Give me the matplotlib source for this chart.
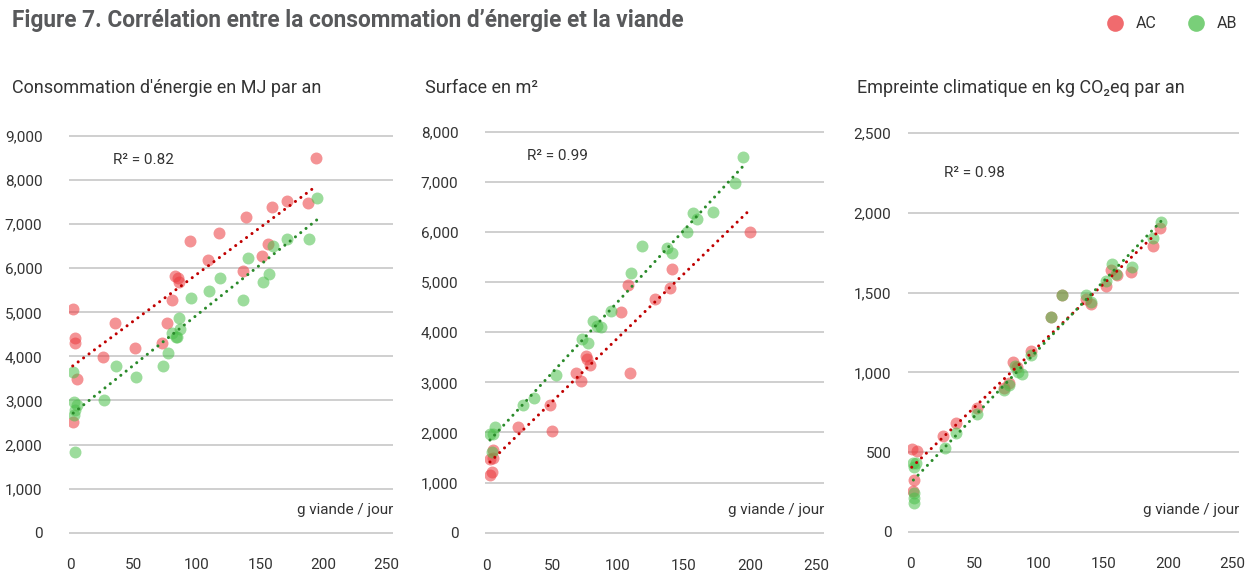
import numpy as np
import matplotlib
matplotlib.use('Agg')
import matplotlib.pyplot as plt
from matplotlib.lines import Line2D

plt.rcParams['font.family'] = ['Roboto', 'DejaVu Sans']

W, H = 1255, 574

# Panel 1: energy consumption (MJ / year) vs meat (g / day)
energy_ac_x = [1.6, 3.2, 3.2, 5, 2, 25.9, 35, 51, 72, 76, 80, 82.6, 84.7, 85.8, 94,
               109, 117, 136, 139, 151, 156, 159, 171, 187.6, 194]
energy_ac_y = [5074, 4409, 4310, 3494, 2518, 3985, 4764, 4189, 4310, 4764, 5278, 5823,
               5777, 5679, 6624, 6186, 6791, 5944, 7154, 6277, 6541, 7396, 7524, 7486, 8492]
energy_ab_x = [2, 2.6, 4.7, 3.7, 2.6, 3.2, 26.4, 36, 51.7, 72.8, 76.8, 80, 83, 83.9,
               85.8, 86.5, 95, 109.5, 118, 136.7, 140, 152, 157, 160, 171.5, 188.7, 195]
energy_ab_y = [3652, 2972, 2896, 2783, 2669, 1838, 3010, 3781, 3539, 3781, 4068, 4522,
               4431, 4446, 4877, 4613, 5316, 5490, 5770, 5278, 6224, 5679, 5861, 6503,
               6662, 6662, 7600]

# Panel 2: surface (m2)
surface_ac_x = [3, 4.3, 3, 5, 5, 24.5, 48.5, 49.7, 68, 71.7, 75.8, 76.3, 78.8, 102,
                107.8, 109, 128, 139.4, 140.7, 200]
surface_ac_y = [1150, 1217, 1463, 1483, 1649, 2101, 2547, 2035, 3178, 3032, 3524, 3457,
                3344, 4395, 4940, 3178, 4654, 4874, 5253, 6004]
surface_ab_x = [3, 5, 6.8, 4.3, 28, 36, 52.8, 73, 77, 81, 84, 87, 95, 110, 118, 137,
                140.7, 152.5, 156.6, 160, 171.7, 188.6, 195]
surface_ab_y = [1961, 1961, 2114, 1616, 2547, 2680, 3145, 3856, 3790, 4222, 4122, 4096,
                4428, 5173, 5718, 5685, 5572, 6004, 6370, 6257, 6390, 6968, 7500]

# Panel 3: climate footprint (kg CO2eq / year)
climate_ac_x = [1.3, 5.2, 3.1, 2.6, 25.8, 35.6, 51.7, 72.8, 76.7, 80, 82.6, 93.5, 109,
                117.5, 136, 140, 152, 156, 160, 171, 188, 194]
climate_ac_y = [517, 506, 324, 257, 600, 684, 774, 904, 931, 1067, 1036, 1136, 1345,
                1485, 1460, 1429, 1544, 1642, 1611, 1632, 1793, 1908]
climate_ab_x = [2.6, 4.6, 3.1, 3.4, 3.4, 3.1, 27, 35.6, 52, 72.8, 76.7, 81.4, 84, 86.5,
                94, 109, 117.5, 136.4, 140, 152, 156.8, 159.6, 171.7, 188.5, 194.5]
climate_ab_y = [433, 429, 408, 245, 209, 182, 523, 621, 736, 889, 920, 1040, 1004, 990,
                1109, 1345, 1485, 1485, 1439, 1573, 1678, 1617, 1663, 1841, 1946]

r2_labels = ['R² = 0.82', 'R² = 0.99', 'R² = 0.98']
subtitles = ["Consommation d'énergie en MJ par an", 'Surface en m²',
             'Empreinte climatique en kg CO₂eq par an']
x_ticks = [0, 50, 100, 150, 200, 250]
y_ticks = [list(range(0, 9001, 1000)), list(range(0, 8001, 1000)), list(range(0, 2501, 500))]

RED, GREEN = '#ec3a3e', '#4cc04c'
RED_TREND, GREEN_TREND = '#c00000', '#2a8a2a'
TEXT = '#333333'


def px_axes(fig, left, right, top, bottom):
    return fig.add_axes([left / W, 1 - bottom / H, (right - left) / W, (bottom - top) / H])


fig = plt.figure(figsize=(W / 100, H / 100), dpi=100)

panels = [
    (energy_ac_x, energy_ac_y, energy_ab_x, energy_ab_y),
    (surface_ac_x, surface_ac_y, surface_ab_x, surface_ab_y),
    (climate_ac_x, climate_ac_y, climate_ab_x, climate_ab_y),
]
# pixel boxes (left, right, top, bottom), x limits, y limits, y label pad
boxes = [
    ((68.8, 393.0, 131.6, 537.1), (-1.5, 255), (-100, 9100), 19),
    ((484.7, 823.9, 126.7, 537.7), (-1, 256), (-100, 8100), 19),
    ((908.1, 1239.2, 128.5, 536.5), (-1.5, 255), (-30, 2530), 12),
]
subtitle_x = [12, 425, 857]
r2_pos = [(113, 160), (527, 156), (944, 173)]

for i, ((ac_x, ac_y, ab_x, ab_y), (box, xl, yl, ypad)) in enumerate(zip(panels, boxes)):
    ax = px_axes(fig, *box)
    ax.scatter(ac_x, ac_y, s=74, color=RED, alpha=0.55, linewidths=0, zorder=2)
    ax.scatter(ab_x, ab_y, s=74, color=GREEN, alpha=0.55, linewidths=0, zorder=2)

    # linear trend lines
    for xs, ys, c in [(ac_x, ac_y, RED_TREND), (ab_x, ab_y, GREEN_TREND)]:
        slope, inter = np.polyfit(xs, ys, 1)
        xx = np.array([min(xs), max(xs)])
        ax.plot(xx, slope * xx + inter, color=c, lw=2.2,
                linestyle=(0, (0.01, 2.2)), dash_capstyle='round', zorder=3)

    ax.set_xlim(*xl)
    ax.set_ylim(*yl)
    ax.set_xticks(x_ticks)
    ax.set_yticks(y_ticks[i])
    ax.set_yticklabels([f'{v:,}' for v in y_ticks[i]])
    ax.tick_params(length=0, labelsize=11, colors=TEXT)
    ax.tick_params(axis='x', pad=15)
    ax.tick_params(axis='y', pad=ypad)
    ax.grid(axis='y', color='#cfcfcf', lw=1.4)
    ax.set_axisbelow(True)
    for sp in ax.spines.values():
        sp.set_visible(False)

    fig.text(subtitle_x[i] / W, 1 - 88 / H, subtitles[i], fontsize=13,
             color=TEXT, va='center', ha='left')
    fig.text(r2_pos[i][0] / W, 1 - r2_pos[i][1] / H, r2_labels[i], fontsize=11,
             color=TEXT, va='center', ha='left')
    fig.text(box[1] / W, 1 - 510 / H, 'g viande / jour', fontsize=11,
             color=TEXT, va='center', ha='right')

fig.text(12 / W, 1 - 21 / H,
         'Figure 7. Corrélation entre la consommation d\u2019énergie et la viande',
         fontsize=16.3, fontweight='bold', color='#58595b', va='center', ha='left')

handles = [Line2D([], [], marker='o', linestyle='', color=RED, alpha=0.75, markersize=12,
                  markeredgewidth=0, label='AC'),
           Line2D([], [], marker='o', linestyle='', color=GREEN, alpha=0.75, markersize=12,
                  markeredgewidth=0, label='AB')]
fig.legend(handles=handles, loc='upper right', bbox_to_anchor=(1252 / W, 1 - 2 / H),
           ncol=2, frameon=False, fontsize=11.5, handletextpad=0.3, columnspacing=1.5,
           labelcolor=TEXT)

fig.savefig('out.png', dpi=100)
